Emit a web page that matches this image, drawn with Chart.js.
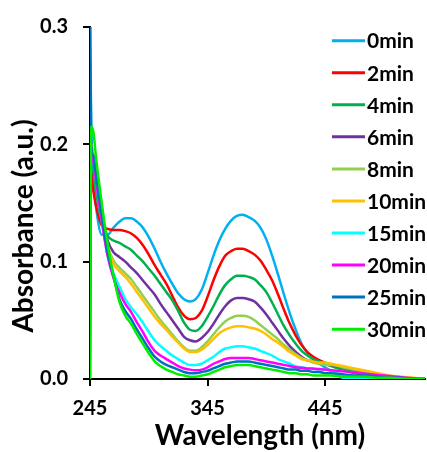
<!DOCTYPE html>
<html>
<head>
<meta charset="utf-8">
<script src="https://cdn.jsdelivr.net/npm/chart.js@4.4.1/dist/chart.umd.min.js"></script>
<style>
  html, body { margin: 0; padding: 0; background: #fff; }
  #wrap { position: relative; width: 427px; height: 452px; }
</style>
</head>
<body>
<div id="wrap"><canvas id="c" width="427" height="452"></canvas></div>
<script>
// Wavelength grid (nm)
const wavelengths = [245, 246, 248, 250, 255, 260, 265, 270, 275, 280, 285, 290, 295, 300, 305, 310, 315, 320, 325, 330,
  335, 340, 345, 350, 355, 360, 365, 370, 375, 380, 385, 390, 395, 400, 405, 410, 415, 420, 425, 430,
  435, 440, 445, 450, 460, 470, 480, 490, 500, 510, 520, 530];

const seriesNames = ['0min', '2min', '4min', '6min', '8min', '10min', '15min', '20min', '25min', '30min'];

// Absorbance spectra per irradiation time
const abs0min = [0.31, 0.22, 0.17, 0.148, 0.123, 0.123, 0.129, 0.134, 0.137, 0.137, 0.134, 0.129, 0.121, 0.111, 0.100, 0.090, 0.081, 0.073, 0.068, 0.066,
  0.068, 0.076, 0.090, 0.105, 0.118, 0.128, 0.135, 0.139, 0.140, 0.138, 0.135, 0.129, 0.119, 0.105, 0.089, 0.072, 0.056, 0.042, 0.030, 0.022,
  0.017, 0.013, 0.010, 0.007, 0.002, 0, 0, 0, 0, 0, 0, 0];
const abs2min = [0, 0.18, 0.16, 0.148, 0.131, 0.128, 0.127, 0.127, 0.126, 0.124, 0.120, 0.114, 0.106, 0.097, 0.089, 0.081, 0.071, 0.061, 0.054, 0.051,
  0.052, 0.058, 0.070, 0.084, 0.096, 0.105, 0.109, 0.111, 0.111, 0.109, 0.106, 0.101, 0.093, 0.084, 0.072, 0.059, 0.047, 0.037, 0.029, 0.023,
  0.019, 0.016, 0.014, 0.012, 0.008, 0.005, 0.003, 0.002, 0.001, 0, 0, 0];
const abs4min = [0.20, 0.19, 0.175, 0.16, 0.135, 0.122, 0.118, 0.116, 0.113, 0.110, 0.105, 0.100, 0.094, 0.088, 0.081, 0.074, 0.067, 0.058, 0.048, 0.042,
  0.041, 0.045, 0.053, 0.062, 0.072, 0.080, 0.085, 0.088, 0.088, 0.087, 0.085, 0.080, 0.074, 0.065, 0.055, 0.045, 0.037, 0.030, 0.024, 0.020,
  0.017, 0.015, 0.013, 0.011, 0.008, 0.006, 0.004, 0.003, 0.002, 0.001, 0, 0];
const abs6min = [0.20, 0.195, 0.185, 0.17, 0.14, 0.118, 0.108, 0.104, 0.100, 0.095, 0.090, 0.084, 0.078, 0.072, 0.064, 0.057, 0.050, 0.043, 0.036, 0.033,
  0.032, 0.035, 0.040, 0.047, 0.055, 0.062, 0.067, 0.069, 0.069, 0.068, 0.066, 0.061, 0.055, 0.048, 0.041, 0.034, 0.028, 0.023, 0.019, 0.016,
  0.015, 0.014, 0.013, 0.012, 0.010, 0.008, 0.006, 0.004, 0.002, 0.001, 0.0005, 0];
const abs8min = [0.20, 0.20, 0.19, 0.175, 0.14, 0.114, 0.101, 0.095, 0.090, 0.085, 0.078, 0.071, 0.064, 0.057, 0.050, 0.044, 0.038, 0.032, 0.027, 0.024,
  0.024, 0.027, 0.032, 0.038, 0.044, 0.049, 0.052, 0.054, 0.054, 0.053, 0.050, 0.046, 0.042, 0.038, 0.034, 0.029, 0.025, 0.021, 0.018, 0.016,
  0.014, 0.013, 0.012, 0.012, 0.010, 0.008, 0.006, 0.004, 0.002, 0.001, 0, 0];
const abs10min = [0.20, 0.20, 0.19, 0.175, 0.14, 0.112, 0.098, 0.092, 0.087, 0.081, 0.074, 0.067, 0.060, 0.053, 0.047, 0.042, 0.036, 0.031, 0.026, 0.023,
  0.023, 0.025, 0.029, 0.034, 0.039, 0.042, 0.044, 0.045, 0.045, 0.044, 0.043, 0.041, 0.038, 0.034, 0.031, 0.027, 0.023, 0.020, 0.017, 0.016,
  0.015, 0.014, 0.014, 0.013, 0.011, 0.009, 0.007, 0.005, 0.003, 0.002, 0.001, 0];
const abs15min = [0.20, 0.195, 0.185, 0.17, 0.135, 0.105, 0.090, 0.079, 0.068, 0.061, 0.055, 0.048, 0.040, 0.033, 0.028, 0.024, 0.020, 0.017, 0.014, 0.012,
  0.012, 0.013, 0.016, 0.019, 0.023, 0.026, 0.027, 0.028, 0.028, 0.027, 0.026, 0.024, 0.022, 0.020, 0.017, 0.015, 0.013, 0.011, 0.010, 0.009,
  0.009, 0.008, 0.008, 0.007, 0.001, 0, 0, 0, 0, 0, 0, 0];
const abs20min = [0.20, 0.195, 0.185, 0.17, 0.135, 0.105, 0.086, 0.074, 0.064, 0.057, 0.048, 0.040, 0.031, 0.024, 0.020, 0.017, 0.014, 0.011, 0.009, 0.008,
  0.0075, 0.008, 0.010, 0.013, 0.015, 0.017, 0.018, 0.018, 0.018, 0.018, 0.017, 0.016, 0.015, 0.014, 0.013, 0.012, 0.011, 0.010, 0.0095, 0.009,
  0.0088, 0.0085, 0.008, 0.0075, 0.0065, 0.0055, 0.0045, 0.0035, 0.0025, 0.0015, 0.0007, 0];
const abs25min = [0.32, 0.20, 0.19, 0.175, 0.14, 0.108, 0.088, 0.068, 0.058, 0.051, 0.042, 0.034, 0.026, 0.019, 0.015, 0.012, 0.010, 0.008, 0.006, 0.005,
  0.005, 0.006, 0.007, 0.009, 0.011, 0.013, 0.014, 0.015, 0.015, 0.015, 0.014, 0.013, 0.012, 0.011, 0.010, 0.009, 0.008, 0.008, 0.007, 0.007,
  0.006, 0.006, 0.005, 0.005, 0.004, 0.003, 0.003, 0.002, 0.001, 0.001, 0, 0];
const abs30min = [0, 0.215, 0.21, 0.19, 0.15, 0.115, 0.088, 0.066, 0.054, 0.047, 0.038, 0.030, 0.022, 0.015, 0.011, 0.008, 0.006, 0.004, 0.003, 0.002,
  0.002, 0.003, 0.004, 0.006, 0.008, 0.010, 0.011, 0.012, 0.012, 0.012, 0.011, 0.010, 0.009, 0.008, 0.007, 0.006, 0.005, 0.005, 0.004, 0.004,
  0.003, 0.003, 0.003, 0.003, 0.002, 0.002, 0.002, 0.001, 0.001, 0.0005, 0, 0];

const xTickValues = [245, 345, 445];
const yTickValues = [0, 0.1, 0.2, 0.3];
const xTitle = 'Wavelength (nm)';
const yTitle = 'Absorbance (a.u.)';

// Line colours, one per series
const seriesColors = ['#00B0F0', '#FF0000', '#00B050', '#7030A0', '#92D050', '#FFC000', '#00FFFF', '#FF00FF', '#0070C0', '#00EE00'];

const allSeries = [abs0min, abs2min, abs4min, abs6min, abs8min, abs10min, abs15min, abs20min, abs25min, abs30min];

const FONT = 'Lato';
Chart.defaults.font.family = FONT;
Chart.defaults.color = '#000';

const datasets = allSeries.map((vals, i) => ({
  label: seriesNames[i],
  data: wavelengths.map((w, k) => ({ x: w, y: vals[k] })),
  borderColor: seriesColors[i],
  backgroundColor: seriesColors[i],
  borderWidth: 2.5,
  pointRadius: 0,
  cubicInterpolationMode: 'monotone',
  order: allSeries.length - 1 - i
}));

// Legend stacked at the upper right of the plot
const sideLegend = {
  id: 'sideLegend',
  afterDraw(chart) {
    const ctx = chart.ctx;
    ctx.save();
    ctx.font = 'bold 21px ' + FONT;
    ctx.textBaseline = 'middle';
    ctx.textAlign = 'left';
    chart.data.datasets.forEach((ds, i) => {
      const y = 40.7 + i * 32.05;
      ctx.strokeStyle = ds.borderColor;
      ctx.lineWidth = 3;
      ctx.beginPath();
      ctx.moveTo(332, y);
      ctx.lineTo(365, y);
      ctx.stroke();
      ctx.fillStyle = '#000';
      ctx.fillText(ds.label, 367, y + 1);
    });
    ctx.restore();
  }
};

// Axis titles
const axisTitles = {
  id: 'axisTitles',
  afterDraw(chart) {
    const ctx = chart.ctx;
    ctx.save();
    ctx.fillStyle = '#000';
    ctx.font = 'bold 28px ' + FONT;
    ctx.textAlign = 'center';
    ctx.textBaseline = 'alphabetic';
    ctx.fillText(xTitle, 260, 445);
    ctx.translate(33, 226);
    ctx.rotate(-Math.PI / 2);
    ctx.fillText(yTitle, 0, 0);
    ctx.restore();
  }
};

new Chart(document.getElementById('c'), {
  type: 'line',
  data: { datasets },
  options: {
    responsive: false,
    animation: false,
    layout: { padding: { top: 21, right: 2, left: 0, bottom: 0 } },
    plugins: { legend: { display: false }, tooltip: { enabled: false } },
    scales: {
      x: {
        type: 'linear',
        min: 245,
        max: 530,
        afterBuildTicks: (s) => { s.ticks = xTickValues.map(v => ({ value: v })); },
        afterFit: (s) => { s.height = 73; },
        border: { color: '#000', width: 2 },
        grid: { drawOnChartArea: false, drawTicks: true, tickLength: 7, color: '#000', lineWidth: 2 },
        ticks: { font: { size: 20, weight: 'bold' }, color: '#000', padding: 11, maxRotation: 0,
          callback: (v) => String(v) }
      },
      y: {
        min: 0,
        max: 0.3,
        afterBuildTicks: (s) => { s.ticks = yTickValues.map(v => ({ value: v })); },
        afterFit: (s) => { s.width = 90; },
        border: { color: '#000', width: 2 },
        grid: { drawOnChartArea: false, drawTicks: true, tickLength: 7, color: '#000', lineWidth: 2 },
        ticks: { font: { size: 20, weight: 'bold' }, color: '#000', padding: 15,
          callback: (v) => Number(v).toFixed(1) }
      }
    }
  },
  plugins: [sideLegend, axisTitles]
});
</script>
</body>
</html>
